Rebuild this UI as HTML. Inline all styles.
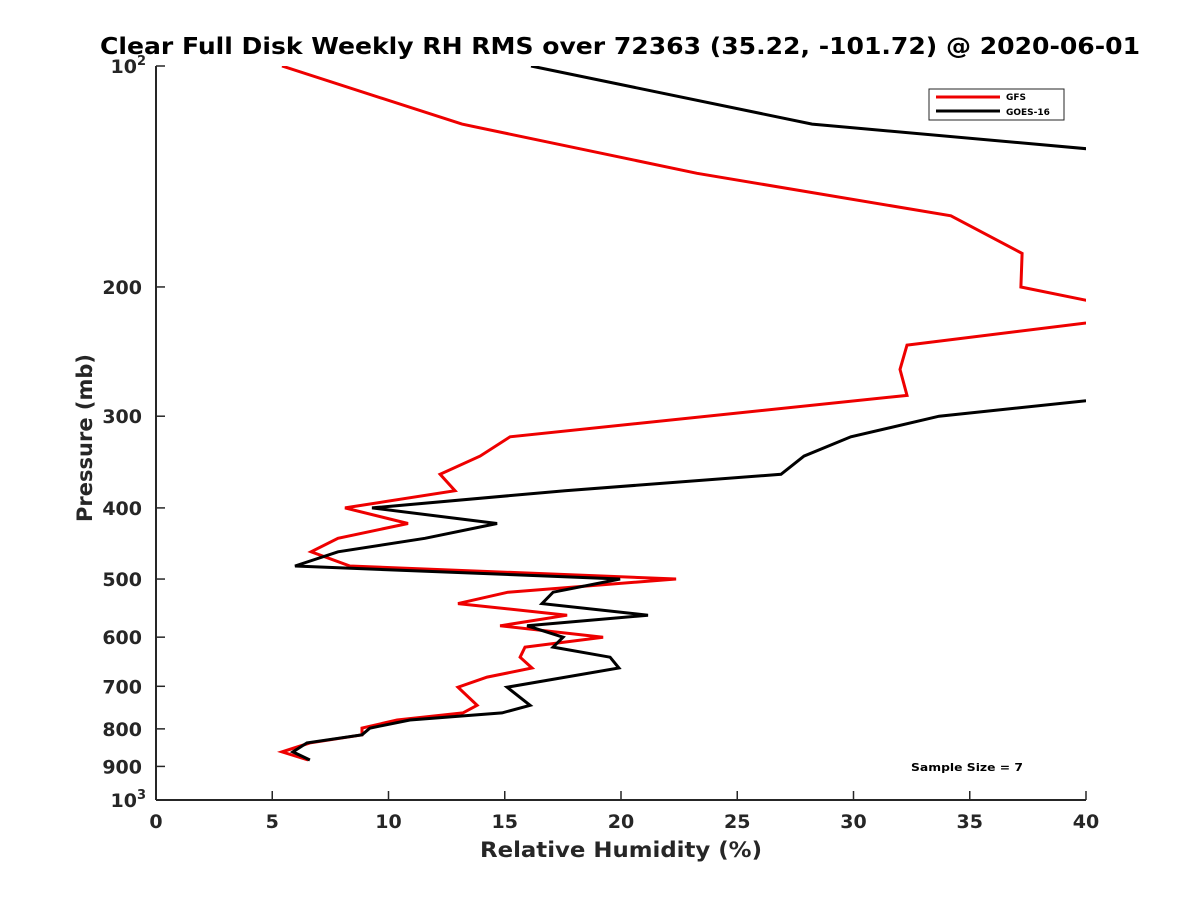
<!DOCTYPE html>
<html><head><meta charset="utf-8"><style>
html,body{margin:0;padding:0;background:#fff;}
svg text{font-family:"DejaVu Sans","Liberation Sans",sans-serif;font-weight:bold;fill:#262626;}
</style></head><body>
<svg id="chart" width="1200" height="900" viewBox="0 0 1200 900" xmlns="http://www.w3.org/2000/svg">
<rect width="1200" height="900" fill="#fff"/>
<defs><clipPath id="plotclip"><rect x="156" y="66" width="930" height="734"/></clipPath></defs>
<text x="100" y="54" font-size="23" textLength="1040" lengthAdjust="spacingAndGlyphs" style="fill:#000">Clear Full Disk Weekly RH RMS over 72363 (35.22, -101.72) @ 2020-06-01</text>
<g id="axes"></g>
<g id="series" clip-path="url(#plotclip)"></g>
<g>
<rect x="929" y="89" width="135" height="31" fill="#fff" stroke="#262626" stroke-width="1"/>
<line x1="936" y1="97" x2="1000" y2="97" stroke="#e00" stroke-width="3"/>
<text x="1006" y="100" font-size="9" style="fill:#000">GFS</text>
<line x1="936" y1="111" x2="1000" y2="111" stroke="#000" stroke-width="3"/>
<text x="1006" y="115" font-size="9" style="fill:#000">GOES-16</text>
</g>
<text x="911" y="771" font-size="11" textLength="112" lengthAdjust="spacingAndGlyphs" style="fill:#000">Sample Size = 7</text>
<text x="480" y="857" font-size="21" textLength="282" lengthAdjust="spacingAndGlyphs">Relative Humidity (%)</text>
<text transform="translate(92,522) rotate(-90)" font-size="21" textLength="168" lengthAdjust="spacingAndGlyphs">Pressure (mb)</text>
</svg>
<script>
const xTicks = [0,5,10,15,20,25,30,35,40];
const yTicks = [100,200,300,400,500,600,700,800,900,1000];
const gfsPressure = [100,120,140,160,180,200,218,240,259,281,320,340,360,379,400,420,440,459,480,500,521,540,560,579,600,619,639,661,680,702,743,761,778,798,815,836,860,882];
const gfsRH = [5.42,13.16,23.27,34.19,37.25,37.2,43,32.3,32.0,32.3,15.23,13.94,12.22,12.86,8.13,10.84,7.83,6.67,8.34,22.37,15.14,12.99,17.68,14.8,19.23,15.87,15.66,16.17,14.24,12.99,13.81,13.2,10.37,8.86,8.86,6.62,5.42,6.54];
const goesPressure = [100,120,140,200,250,280,300,320,340,360,379,400,420,440,459,480,500,521,540,560,579,600,619,639,661,702,743,761,778,798,815,836,860,882];
const goesRH = [16.13,28.22,51.8,55,55,42.7,33.68,29.89,27.87,26.88,17.59,9.29,14.67,11.57,7.83,5.98,19.96,17.08,16.6,21.16,15.96,17.51,17.08,19.53,19.91,15.1,16.09,14.88,10.92,9.2,8.86,6.49,5.89,6.62];

const NS='http://www.w3.org/2000/svg';
const X0=156,X1=1086,Y0=66,Y1=800;
function xs(v){return X0+(v-0)/(40-0)*(X1-X0);}
function ys(p){return Y0+(Math.log10(p)-2)*(Y1-Y0);}
function mk(tag,attrs,parent){const e=document.createElementNS(NS,tag);for(const k in attrs)e.setAttribute(k,attrs[k]);parent.appendChild(e);return e;}
const axes=document.getElementById('axes');
let l=mk('line',{x1:X0,y1:Y0,x2:X0,y2:Y1,stroke:'#262626','stroke-width':2},axes);


l=mk('line',{x1:X0,y1:Y1,x2:X1,y2:Y1,stroke:'#262626','stroke-width':2},axes);


xTicks.forEach(v=>{
  const x=xs(v);
  mk('line',{x1:x,y1:Y1,x2:x,y2:Y1-9,stroke:'#262626','stroke-width':1.5},axes);
  const t=mk('text',{x:x,y:Y1+28,'font-size':19,'text-anchor':'middle'},axes);
  t.textContent=v;
  
  
});
yTicks.forEach(p=>{
  const y=ys(p);
  mk('line',{x1:X0,y1:y,x2:X0+9,y2:y,stroke:'#262626','stroke-width':1.5},axes);
  const t=mk('text',{x:X0-14,y:y+7,'font-size':19,'text-anchor':'end'},axes);
  
  
  if(p===100||p===1000){
    t.textContent='10';
    const s=mk('tspan',{dy:-8,'font-size':13},t);
    s.textContent=p===100?'2':'3';
    t.setAttribute('x',X0-10);
  } else t.textContent=p;
});
const sg=document.getElementById('series');
function draw(P,V,color,name){
  const d=P.map((p,i)=>(i?'L':'M')+xs(V[i]).toFixed(1)+','+ys(p).toFixed(1)).join(' ');
  const e=mk('path',{d:d,fill:'none',stroke:color,'stroke-width':3,'stroke-linejoin':'miter'},sg);
  
  
}
draw(gfsPressure,gfsRH,'#e00','gfs-line');
draw(goesPressure,goesRH,'#000','goes16-line');
</script>
</body></html>
